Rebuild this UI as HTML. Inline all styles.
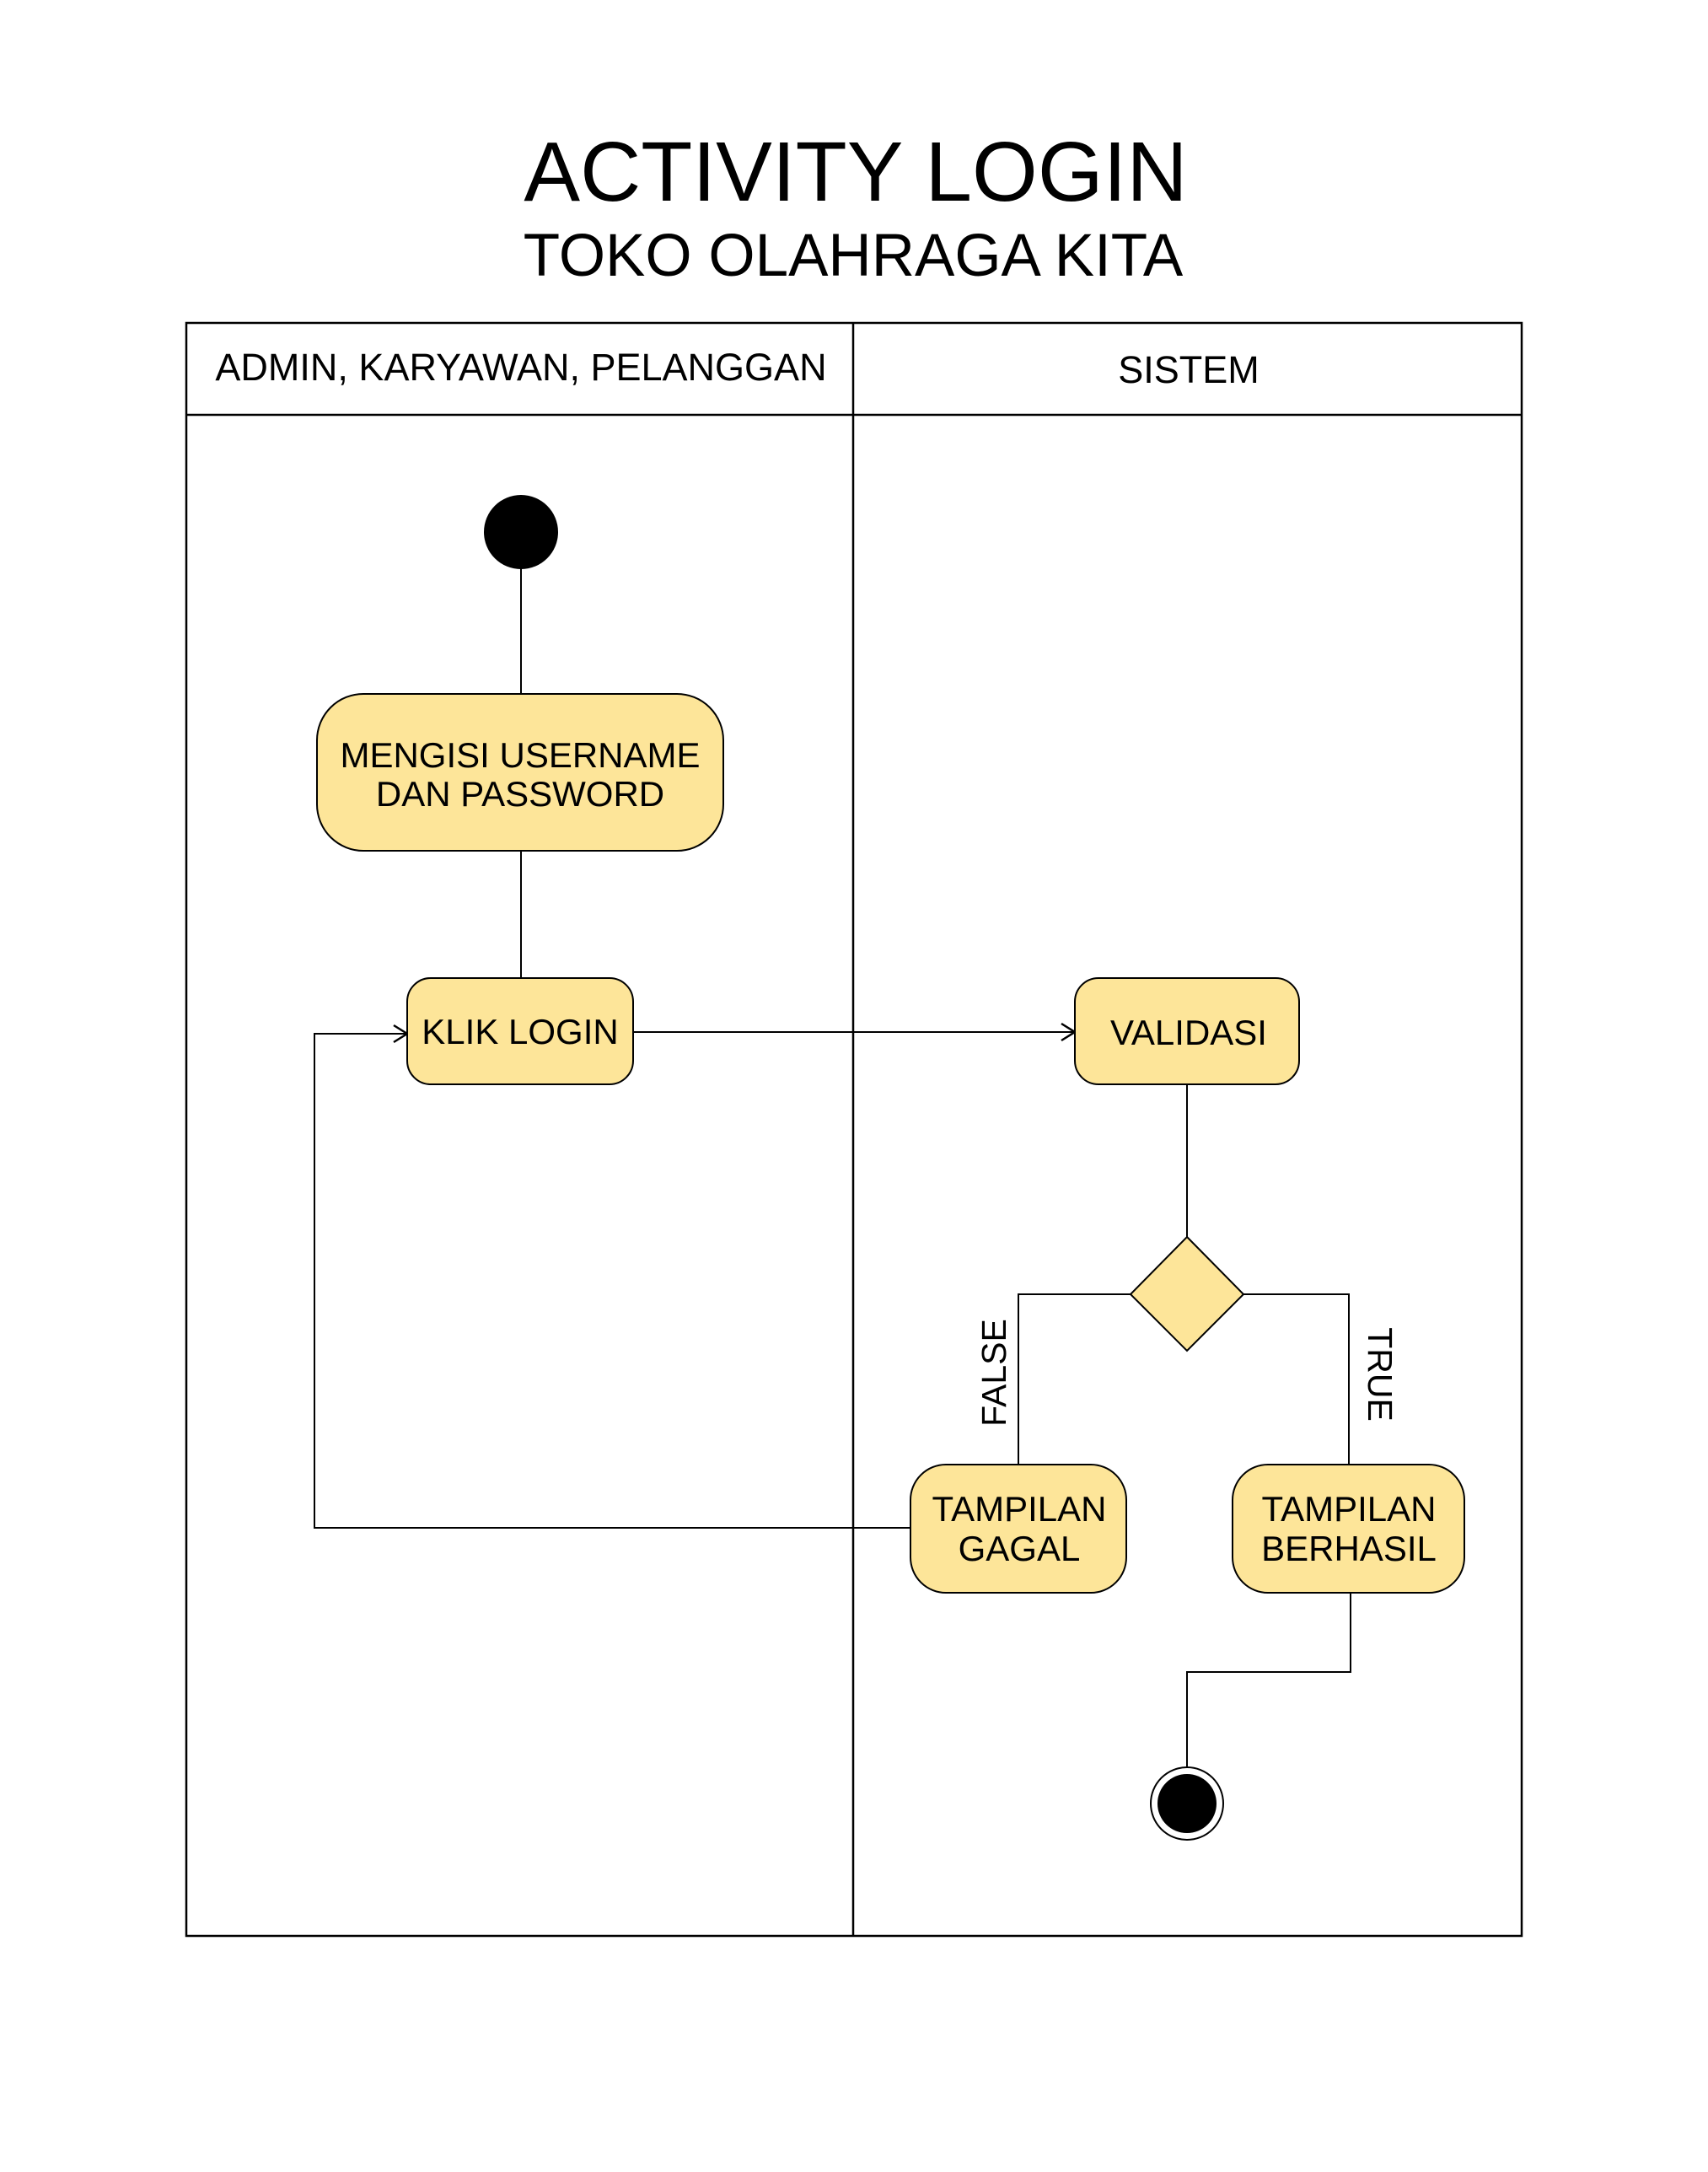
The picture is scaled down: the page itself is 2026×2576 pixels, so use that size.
<!DOCTYPE html>
<html><head><meta charset="utf-8"><style>html,body{margin:0;padding:0;background:#fff}svg{display:block}</style></head>
<body>
<svg width="2026" height="2576" viewBox="0 0 2026 2576" xmlns="http://www.w3.org/2000/svg" font-family="'Liberation Sans', sans-serif">
<defs>
<marker id="ar" markerWidth="24" markerHeight="24" refX="20" refY="12" orient="auto" markerUnits="userSpaceOnUse">
<path d="M4,2 L20,12 L4,22" fill="none" stroke="#000" stroke-width="2.5"/>
</marker>
</defs>
<rect width="2026" height="2576" fill="#fff"/>
<text x="1015" y="238" font-size="100" text-anchor="middle">ACTIVITY LOGIN</text>
<text x="1012" y="327" font-size="71" text-anchor="middle">TOKO OLAHRAGA KITA</text>
<g stroke="#000" stroke-width="2.5" fill="none">
<rect x="221" y="383" width="1584" height="1913"/>
<line x1="221" y1="492" x2="1805" y2="492"/>
<line x1="1012" y1="383" x2="1012" y2="2296"/>
</g>
<text x="618" y="451" font-size="45" text-anchor="middle">ADMIN, KARYAWAN, PELANGGAN</text>
<text x="1410" y="454" font-size="45" text-anchor="middle">SISTEM</text>
<g stroke="#000" stroke-width="2" fill="none">
<line x1="618" y1="631" x2="618" y2="823"/>
<line x1="618" y1="1009" x2="618" y2="1160"/>
<line x1="751" y1="1224" x2="1275" y2="1224" marker-end="url(#ar)"/>
<line x1="1408" y1="1286" x2="1408" y2="1467"/>
<polyline points="1341,1535 1208,1535 1208,1737"/>
<polyline points="1475,1535 1600,1535 1600,1737"/>
<polyline points="1602,1889 1602,1983 1408,1983 1408,2095"/>
<polyline points="1080,1812 373,1812 373,1226 483,1226" marker-end="url(#ar)"/>
</g>
<circle cx="618" cy="631" r="44" fill="#000"/>
<g fill="#fde599" stroke="#000" stroke-width="2">
<rect x="376" y="823" width="482" height="186" rx="55"/>
<rect x="483" y="1160" width="268" height="126" rx="28"/>
<rect x="1275" y="1160" width="266" height="126" rx="28"/>
<polygon points="1408,1467 1475,1535 1408,1602 1341,1535"/>
<rect x="1080" y="1737" width="256" height="152" rx="42"/>
<rect x="1462" y="1737" width="275" height="152" rx="42"/>
</g>
<g font-size="42" text-anchor="middle">
<text x="617" y="910">MENGISI USERNAME</text>
<text x="617" y="956">DAN PASSWORD</text>
<text x="617" y="1238">KLIK LOGIN</text>
<text x="1410" y="1239">VALIDASI</text>
<text x="1209" y="1804">TAMPILAN</text>
<text x="1209" y="1851">GAGAL</text>
<text x="1600" y="1804">TAMPILAN</text>
<text x="1600" y="1851">BERHASIL</text>
</g>
<text transform="translate(1193,1628) rotate(-90)" font-size="41" text-anchor="middle">FALSE</text>
<text transform="translate(1623,1630) rotate(90)" font-size="41" text-anchor="middle">TRUE</text>
<circle cx="1408" cy="2139" r="43" fill="#fff" stroke="#000" stroke-width="2"/>
<circle cx="1408" cy="2139" r="35" fill="#000"/>
</svg>
</body></html>
